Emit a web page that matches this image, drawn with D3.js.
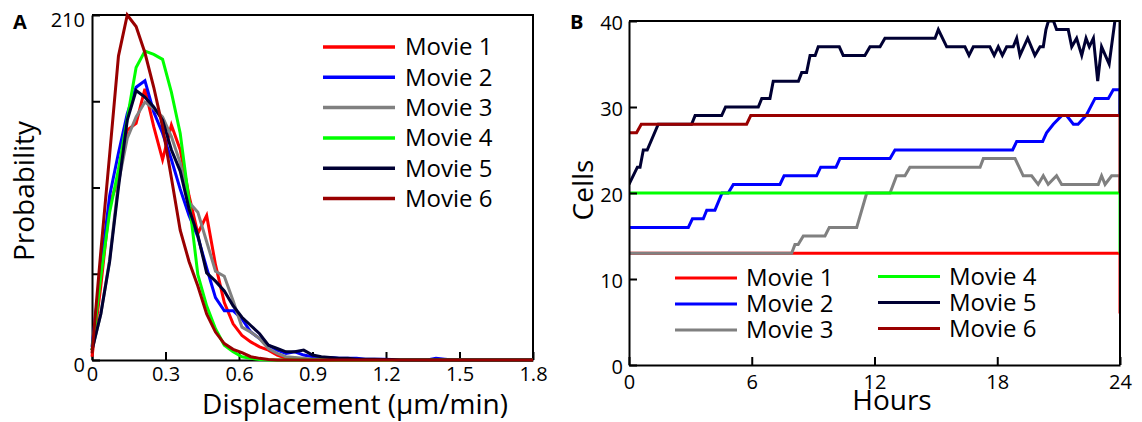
<!DOCTYPE html>
<html>
<head>
<meta charset="utf-8">
<script src="https://cdn.jsdelivr.net/npm/d3@7"></script>
<style>
body{margin:0;background:#fff;}
text{font-family:"Open Sans","Noto Sans",sans-serif;fill:#000;}
</style>
</head>
<body>
<div id="chart-area"></div>
<script>
// series names + colours (same for both panels)
var movieNames = ['Movie 1','Movie 2','Movie 3','Movie 4','Movie 5','Movie 6'];
var movieColors = ['#ff0000','#0000ff','#808080','#00ff00','#000033','#990000'];

// panel A - displacement bins (um/min)
var dispBins = [0,0.036,0.072,0.108,0.144,0.18,0.216,0.252,0.288,0.324,0.36,0.396,0.432,0.468,0.504,0.54,
    0.576,0.612,0.648,0.684,0.72,0.756,0.792,0.828,0.864,0.9,0.936,0.972,1.008,1.044,1.08,1.116,1.152,
    1.188,1.224,1.26,1.296,1.332,1.368,1.404,1.44,1.476,1.512,1.548,1.584,1.62,1.656,1.692,1.728,1.764,1.8];

var probMovie1 = [2,45,95,110,140,144,165,142,122,143,128,100,77,88,58,35,22,15,11,8,6,3,1,0.5,0,
    0,0,0,0,0,0,0,0,0,0,0,0,0,0,0,0,0,0,0,0,0,0,0,0,0,0];
var probMovie2 = [8,55,100,126,150,166,170,151,138,122,104,88,75,56,38,30,30,25,17,13,9,6,4,5,3,
    2,1.5,1.5,1,1,1,0.5,0.5,0.5,0.3,0,0,0,0,1,0.5,0,0,0,0,0,0,0,0,0,0];
var probMovie3 = [6,28,61,108,135,148,157,153,148,136,120,96,90,72,54,51,36,20,17,13,7,4,2,1.5,1,
    0.5,0.5,0.3,0,0,0,0,0,0,0,0,0,0,0,0,0,0,0,0,0,0,0,0,0,0,0];
var probMovie4 = [6,51,90,116,147,178,188,186,183,163,138,97,52,33,19,9,5,2,1,0.3,0,0,0,0,0,
    0,0,0,0,0,0,0,0,0,0,0,0,0,0,0,0,0,0,0,0,0,0,0,0,0,0];
var probMovie5 = [6,28,60,105,146,164,160,154,146,128,115,92,76,53,48,42,33,26,21,16,9,7,5,5,6,
    3,2,1.5,1,1,0.5,0.5,0.5,0.3,0.3,0,0,0,0,0,0,0,0,0,0,0,0,0,0,0,0];
var probMovie6 = [4,66,125,185,210,203,187,166,142,111,79,60,45,28,17,10,6.5,4.5,2,1,0.3,0,0,0,0,
    0,0,0,0,0,0,0,0,0,0,0,0,0,0,0,0,0,0,0,0,0,0,0,0,0,0];
var probSeries = [probMovie1,probMovie2,probMovie3,probMovie4,probMovie5,probMovie6];

var dispTicks = [0,0.3,0.6,0.9,1.2,1.5,1.8];
var probTicks = [0,52.5,105,157.5,210];
var probLabelled = [0,210];

// panel B - cell counts over time, [hour, cells]
var cellsMovie1 = [[0,13],[24,13],[24,6]];
var cellsMovie2 = [[0,16],[2.9,16],[3.1,17],[3.63,17],[3.8,18],[4.2,18],[4.55,20],[4.85,20],[5.1,21],
    [7.38,21],[7.58,22],[9.17,22],[9.37,23],[10.12,23],[10.31,24],[12.76,24],[13,25],[18.75,25],
    [18.95,26],[20.22,26],[20.41,27],[20.74,28],[21.15,29],[21.39,29],[21.72,28],[21.95,28],
    [22.34,29],[22.78,31],[23.43,31],[23.67,32],[24,32],[24,29]];
var cellsMovie3 = [[0,13],[7.95,13],[8.11,14],[8.27,14],[8.52,15],[9.58,15],[9.79,16],[11.13,16],
    [11.62,20],[12.76,20],[13.08,22],[13.49,22],[13.73,23],[17.16,23],[17.32,24],[18.87,24],
    [19.27,22],[19.68,22],[20,21],[20.25,22],[20.49,21],[20.9,22],[21.15,21],[22.94,21],[23.1,22],
    [23.27,21],[23.59,22],[24,22],[24,20]];
var cellsMovie4 = [[0,20],[24,20],[24,13]];
var cellsMovie5 = [[0,21],[0.41,23],[0.54,23],[0.7,25],[0.89,25],[1.43,28],[3.06,28],[3.23,29],
    [4.53,29],[4.72,30],[6.32,30],[6.49,31],[6.89,31],[7.05,33],[8.28,33],[8.44,34],[8.68,34],
    [8.85,36],[9.1,36],[9.25,37],[10.28,37],[10.47,36],[11.53,36],[11.78,37],[12.27,37],[12.51,38],
    [14.96,38],[15.12,39],[15.53,37],[16.42,37],[16.62,36],[16.83,37],[17.64,37],[17.85,36],
    [18.05,37],[18.25,36],[18.46,37],[18.78,37],[18.95,38],[19.11,36],[19.49,38],[19.84,36],
    [20.09,37],[20.25,37],[20.38,39],[20.5,40],[20.75,40],[20.9,39],[21.47,39],[21.64,37],
    [21.88,38],[22.13,36],[22.34,38],[22.5,37],[22.7,38],[22.91,33],[23.1,37],[23.47,35],
    [23.75,40],[24,41],[24,29]];
var cellsMovie6 = [[0,27],[0.37,27],[0.6,28],[5.75,28],[5.95,29],[24,29],[24,20]];
var cellsSeries = [cellsMovie1,cellsMovie2,cellsMovie3,cellsMovie4,cellsMovie5,cellsMovie6];

var hourTicks = [0,6,12,18,24];
var cellTicks = [0,10,20,30,40];

var def = {
    width: 1142,
    height: 422,
    tickFont: '20px',
    labelFont: '28px',
    legendFont: '24px'
};

var svg = d3.select('#chart-area').append('svg')
    .attr('width', def.width)
    .attr('height', def.height);

// styles the axis the way the figure has it: thick line, inward ticks
function styleAxis(sel) {
    sel.attr('font-size', def.tickFont).attr('font-family', null);
    sel.select('.domain').attr('stroke', '#000').attr('stroke-width', 2);
    sel.selectAll('.tick line').attr('stroke', '#000').attr('stroke-width', 2);
    sel.selectAll('.tick text').attr('fill', '#111');
}

function frame(x0, x1, y0, y1) {
    svg.append('path')
        .attr('d', 'M' + x0 + ',' + y0 + 'H' + x1 + 'V' + y1)
        .attr('fill', 'none')
        .attr('stroke', '#000')
        .attr('stroke-width', 2);
}

// ---------------- panel A ----------------
var xA = d3.scaleLinear().domain([0, 1.8]).range([92, 533]);
var yA = d3.scaleLinear().domain([0, 210]).range([360, 15]);

frame(xA(0), xA(1.8), yA(210), yA(0));

var xAxA = svg.append('g')
    .attr('transform', 'translate(0,' + yA(0) + ')')
    .call(d3.axisBottom(xA).tickValues(dispTicks).tickSizeInner(-8).tickSizeOuter(0).tickPadding(7)
        .tickFormat(d => d === 0 ? '0' : d.toFixed(1)));
styleAxis(xAxA);

var yAxA = svg.append('g')
    .attr('transform', 'translate(' + xA(0) + ',0)')
    .call(d3.axisLeft(yA).tickValues(probTicks).tickSizeInner(-8).tickSizeOuter(0).tickPadding(7)
        .tickFormat(d => probLabelled.indexOf(d) >= 0 ? d : ''));
styleAxis(yAxA);
yAxA.selectAll('.tick text').attr('dy', '0.57em');

var lineA = d3.line()
    .x((d, i) => xA(dispBins[i]))
    .y(d => yA(d));

probSeries.forEach((s, i) => {
    svg.append('path')
        .datum(s)
        .attr('fill', 'none')
        .attr('stroke', movieColors[i])
        .attr('stroke-width', 3)
        .attr('stroke-linejoin', 'miter')
        .attr('d', lineA);
});

// legend A
var legA = svg.append('g').attr('transform', 'translate(323,47)');
movieNames.forEach((name, i) => {
    var row = legA.append('g').attr('transform', 'translate(0,' + (i * 30.3) + ')');
    row.append('line').attr('x1', 0).attr('x2', 72)
        .attr('stroke', movieColors[i]).attr('stroke-width', 3.5);
    row.append('text').attr('x', 82).attr('dy', '0.35em')
        .attr('font-size', def.legendFont).text(name);
});

svg.append('text')
    .attr('transform', 'translate(34,191) rotate(-90)')
    .attr('text-anchor', 'middle')
    .attr('font-size', def.labelFont)
    .text('Probability');

svg.append('text')
    .attr('x', 355).attr('y', 414)
    .attr('text-anchor', 'middle')
    .attr('font-size', def.labelFont)
    .text('Displacement (µm/min)');

svg.append('text')
    .attr('x', 13).attr('y', 29)
    .attr('font-size', '20px').attr('font-weight', 'bold')
    .text('A');

// ---------------- panel B ----------------
var xB = d3.scaleLinear().domain([0, 24]).range([629, 1120]);
var yB = d3.scaleLinear().domain([0, 40]).range([365, 21]);

svg.append('clipPath').attr('id', 'clipB')
    .append('rect')
    .attr('x', xB(0)).attr('y', yB(40))
    .attr('width', xB(24) - xB(0) + 1).attr('height', yB(0) - yB(40));

var lineB = d3.line()
    .x(d => xB(d[0]))
    .y(d => yB(d[1]));

var plotB = svg.append('g').attr('clip-path', 'url(#clipB)');
cellsSeries.forEach((s, i) => {
    plotB.append('path')
        .datum(s)
        .attr('fill', 'none')
        .attr('stroke', movieColors[i])
        .attr('stroke-width', 3)
        .attr('d', lineB);
});

frame(xB(0), xB(24), yB(40), yB(0));

var xAxB = svg.append('g')
    .attr('transform', 'translate(0,' + yB(0) + ')')
    .call(d3.axisBottom(xB).tickValues(hourTicks).tickSizeInner(-8).tickSizeOuter(0).tickPadding(10));
styleAxis(xAxB);

var yAxB = svg.append('g')
    .attr('transform', 'translate(' + xB(0) + ',0)')
    .call(d3.axisLeft(yB).tickValues(cellTicks).tickSizeInner(-8).tickSizeOuter(0).tickPadding(6));
styleAxis(yAxB);
yAxB.selectAll('.tick text').attr('dy', '0.4em');

// legend B, two columns of three
var legCols = [{x: 675, y: 278}, {x: 878, y: 276.5}];
movieNames.forEach((name, i) => {
    var c = legCols[Math.floor(i / 3)];
    var row = svg.append('g').attr('transform', 'translate(' + c.x + ',' + (c.y + (i % 3) * 26) + ')');
    row.append('line').attr('x1', 0).attr('x2', 62)
        .attr('stroke', movieColors[i]).attr('stroke-width', 3);
    row.append('text').attr('x', 71).attr('dy', '0.35em')
        .attr('font-size', def.legendFont).text(name);
});

svg.append('text')
    .attr('transform', 'translate(593,190) rotate(-90)')
    .attr('text-anchor', 'middle')
    .attr('font-size', def.labelFont)
    .text('Cells');

svg.append('text')
    .attr('x', 892).attr('y', 410)
    .attr('text-anchor', 'middle')
    .attr('font-size', def.labelFont)
    .text('Hours');

svg.append('text')
    .attr('x', 570).attr('y', 29)
    .attr('font-size', '20px').attr('font-weight', 'bold')
    .text('B');
</script>
</body>
</html>
